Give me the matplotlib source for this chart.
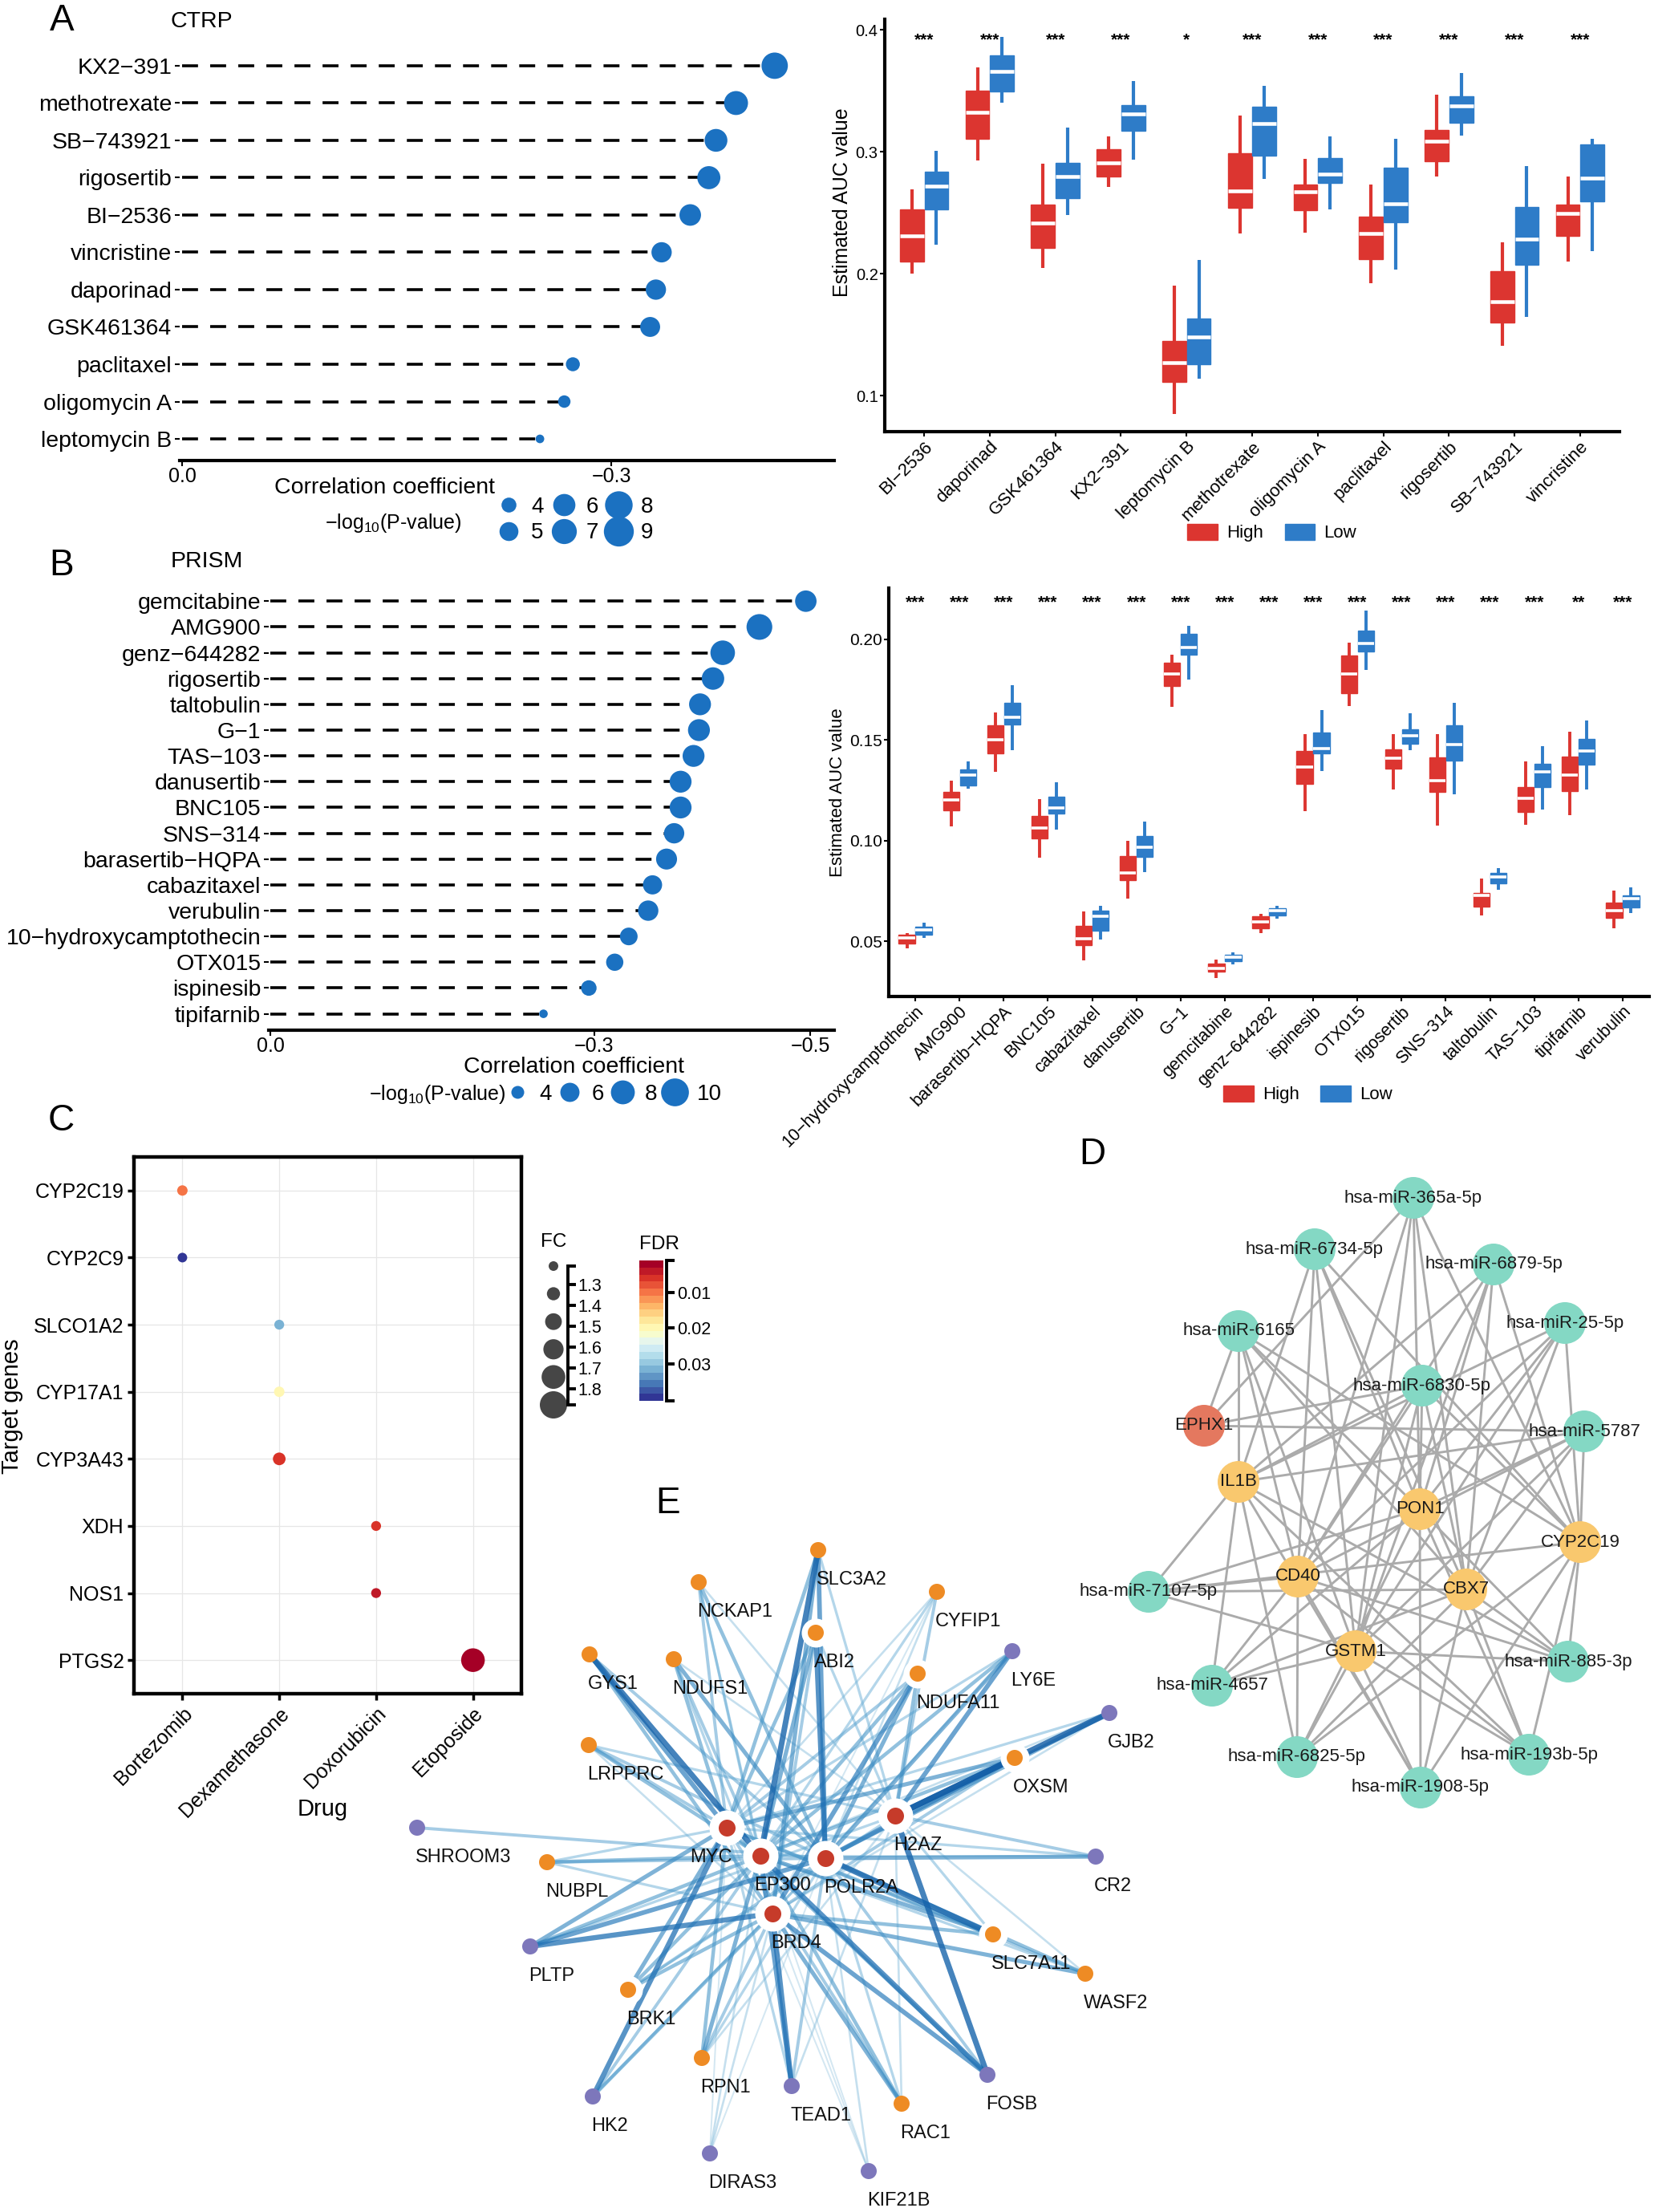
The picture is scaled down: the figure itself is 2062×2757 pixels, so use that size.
import numpy as np
import matplotlib
matplotlib.use('Agg')
import matplotlib.pyplot as plt
from matplotlib.lines import Line2D
from matplotlib.patches import Patch
from matplotlib import colormaps
from matplotlib.colors import Normalize
from matplotlib.cm import ScalarMappable

# ---------------- DATA ----------------
# Panel A (CTRP) lollipop
ctrp_drugs = ['KX2−391', 'methotrexate', 'SB−743921', 'rigosertib', 'BI−2536', 'vincristine',
              'daporinad', 'GSK461364', 'paclitaxel', 'oligomycin A', 'leptomycin B']
ctrp_cor = [-0.414, -0.387, -0.373, -0.368, -0.355, -0.335, -0.331, -0.327, -0.273, -0.267, -0.250]
ctrp_logp = [7.5, 6.6, 6.2, 6.3, 5.8, 5.4, 5.4, 5.3, 3.8, 3.5, 2.9]
ctrp_leg = [4, 5, 6, 7, 8, 9]

# Panel A boxplot  (whislo, q1, median, q3, whishi)
ctrp_box_drugs = ['BI−2536', 'daporinad', 'GSK461364', 'KX2−391', 'leptomycin B', 'methotrexate',
                  'oligomycin A', 'paclitaxel', 'rigosertib', 'SB−743921', 'vincristine']
ctrp_stars = ['***', '***', '***', '***', '*', '***', '***', '***', '***', '***', '***']
ctrp_high = [[0.200, 0.210, 0.231, 0.253, 0.269],
             [0.293, 0.311, 0.3325, 0.350, 0.369],
             [0.205, 0.221, 0.2414, 0.257, 0.290],
             [0.271, 0.280, 0.291, 0.302, 0.313],
             [0.085, 0.111, 0.127, 0.145, 0.190],
             [0.233, 0.254, 0.268, 0.299, 0.330],
             [0.234, 0.252, 0.267, 0.273, 0.294],
             [0.192, 0.212, 0.233, 0.247, 0.273],
             [0.280, 0.2925, 0.309, 0.318, 0.347],
             [0.141, 0.160, 0.177, 0.202, 0.2255],
             [0.210, 0.231, 0.2496, 0.257, 0.280]]
ctrp_low = [[0.224, 0.253, 0.2716, 0.2835, 0.3006],
            [0.3406, 0.3496, 0.366, 0.379, 0.394],
            [0.248, 0.262, 0.280, 0.291, 0.320],
            [0.2936, 0.317, 0.331, 0.3386, 0.358],
            [0.1136, 0.126, 0.148, 0.163, 0.211],
            [0.278, 0.297, 0.3235, 0.337, 0.354],
            [0.253, 0.2745, 0.282, 0.295, 0.3125],
            [0.2035, 0.242, 0.2574, 0.2867, 0.311],
            [0.3136, 0.3238, 0.3377, 0.3455, 0.365],
            [0.1646, 0.2072, 0.2287, 0.2548, 0.2884],
            [0.2188, 0.2594, 0.2786, 0.3058, 0.311]]

# Panel B (PRISM) lollipop
prism_drugs = ['gemcitabine', 'AMG900', 'genz−644282', 'rigosertib', 'taltobulin', 'G−1', 'TAS−103',
               'danusertib', 'BNC105', 'SNS−314', 'barasertib−HQPA', 'cabazitaxel', 'verubulin',
               '10−hydroxycamptothecin', 'OTX015', 'ispinesib', 'tipifarnib']
prism_cor = [-0.496, -0.453, -0.419, -0.410, -0.398, -0.397, -0.392, -0.380, -0.380, -0.374,
             -0.367, -0.354, -0.350, -0.332, -0.319, -0.295, -0.253]
prism_logp = [6.9, 8.9, 8.3, 7.35, 7.1, 7.1, 7.1, 7.1, 7.1, 6.45, 6.7, 6.0, 6.45, 5.45, 5.3, 4.75, 3.1]
prism_leg = [4, 6, 8, 10]

# Panel B boxplot
prism_box_drugs = ['10−hydroxycamptothecin', 'AMG900', 'barasertib−HQPA', 'BNC105', 'cabazitaxel',
                   'danusertib', 'G−1', 'gemcitabine', 'genz−644282', 'ispinesib', 'OTX015',
                   'rigosertib', 'SNS−314', 'taltobulin', 'TAS−103', 'tipifarnib', 'verubulin']
prism_stars = ['***'] * 15 + ['**', '***']
prism_high = [[0.0464, 0.0488, 0.0515, 0.0533, 0.054],
              [0.1071, 0.1151, 0.1201, 0.1243, 0.1297],
              [0.1342, 0.1433, 0.1501, 0.157, 0.1635],
              [0.0916, 0.101, 0.1062, 0.112, 0.1205],
              [0.0406, 0.0482, 0.0511, 0.0576, 0.0647],
              [0.0713, 0.0804, 0.084, 0.0921, 0.0999],
              [0.1662, 0.1767, 0.1825, 0.1883, 0.1924],
              [0.0316, 0.0348, 0.0367, 0.0388, 0.041],
              [0.0542, 0.0563, 0.0598, 0.0623, 0.0636],
              [0.1147, 0.1283, 0.1364, 0.1443, 0.1527],
              [0.1666, 0.1733, 0.1828, 0.192, 0.1982],
              [0.1252, 0.1355, 0.1409, 0.1454, 0.1527],
              [0.1075, 0.1243, 0.1297, 0.1413, 0.153],
              [0.0627, 0.0672, 0.0726, 0.0741, 0.0813],
              [0.1078, 0.1143, 0.1209, 0.1265, 0.1391],
              [0.1125, 0.1245, 0.1324, 0.1418, 0.1539],
              [0.0563, 0.0614, 0.0652, 0.0692, 0.075]]
prism_low = [[0.0515, 0.0533, 0.0558, 0.0572, 0.0591],
             [0.1259, 0.1274, 0.1324, 0.1351, 0.1391],
             [0.1449, 0.1575, 0.1613, 0.1684, 0.1771],
             [0.1053, 0.1134, 0.1162, 0.1219, 0.1288],
             [0.0509, 0.0554, 0.0623, 0.065, 0.0674],
             [0.0843, 0.0919, 0.0966, 0.1021, 0.1093],
             [0.1798, 0.1924, 0.1958, 0.2027, 0.2065],
             [0.0385, 0.0401, 0.0419, 0.0433, 0.0446],
             [0.061, 0.0627, 0.065, 0.0665, 0.0674],
             [0.1346, 0.1431, 0.1458, 0.1536, 0.1648],
             [0.1846, 0.1939, 0.1977, 0.204, 0.2141],
             [0.1449, 0.148, 0.1521, 0.1552, 0.163],
             [0.1228, 0.1395, 0.1476, 0.1572, 0.1684],
             [0.0757, 0.0789, 0.0818, 0.084, 0.0862],
             [0.1153, 0.1265, 0.1342, 0.1382, 0.1469],
             [0.1255, 0.1378, 0.1445, 0.1503, 0.1595],
             [0.0641, 0.0666, 0.071, 0.0728, 0.0768]]

# Panel C
c_genes = ['CYP2C19', 'CYP2C9', 'SLCO1A2', 'CYP17A1', 'CYP3A43', 'XDH', 'NOS1', 'PTGS2']
c_drug_levels = ['Bortezomib', 'Dexamethasone', 'Doxorubicin', 'Etoposide']
c_drug = ['Bortezomib', 'Bortezomib', 'Dexamethasone', 'Dexamethasone', 'Dexamethasone',
          'Doxorubicin', 'Doxorubicin', 'Etoposide']
c_fc = [1.24, 1.21, 1.22, 1.24, 1.325, 1.22, 1.22, 1.74]
c_fdr = [0.0095, 0.040, 0.0317, 0.020, 0.005, 0.005, 0.003, 0.001]
c_fc_keys = [1.21, 1.343, 1.477, 1.61, 1.743, 1.877]
c_fc_ticks = [1.3, 1.4, 1.5, 1.6, 1.7, 1.8]
c_fdr_ticks = [0.01, 0.02, 0.03]

# Panel D network
d_nodes = ['hsa-miR-365a-5p', 'hsa-miR-6734-5p', 'hsa-miR-6879-5p', 'hsa-miR-6165', 'hsa-miR-25-5p',
           'hsa-miR-6830-5p', 'EPHX1', 'hsa-miR-5787', 'IL1B', 'PON1', 'CYP2C19', 'hsa-miR-7107-5p',
           'CD40', 'CBX7', 'GSTM1', 'hsa-miR-885-3p', 'hsa-miR-4657', 'hsa-miR-6825-5p',
           'hsa-miR-193b-5p', 'hsa-miR-1908-5p']
d_type = ['mirna', 'mirna', 'mirna', 'mirna', 'mirna', 'mirna', 'key', 'mirna', 'gene', 'gene', 'gene',
          'mirna', 'gene', 'gene', 'gene', 'mirna', 'mirna', 'mirna', 'mirna', 'mirna']
d_x = [1762, 1639, 1862, 1544, 1951, 1773, 1501, 1975, 1544, 1770, 1970, 1432, 1618, 1828, 1690,
       1955, 1511, 1617, 1906, 1771]
d_y = [1493, 1557, 1576, 1659, 1649, 1727, 1777, 1784, 1847, 1881, 1922, 1984, 1965, 1981, 2058,
       2071, 2101, 2190, 2187, 2228]
d_targets = {
    'hsa-miR-365a-5p': ['EPHX1', 'CD40', 'PON1', 'GSTM1', 'CBX7', 'CYP2C19'],
    'hsa-miR-6734-5p': ['IL1B', 'CD40', 'PON1', 'CBX7', 'GSTM1', 'CYP2C19'],
    'hsa-miR-6879-5p': ['IL1B', 'CD40', 'GSTM1', 'PON1', 'CBX7', 'CYP2C19'],
    'hsa-miR-6165': ['EPHX1', 'IL1B', 'CD40', 'PON1', 'CBX7', 'GSTM1', 'CYP2C19'],
    'hsa-miR-25-5p': ['IL1B', 'CD40', 'GSTM1', 'PON1', 'CBX7', 'CYP2C19'],
    'hsa-miR-6830-5p': ['EPHX1', 'IL1B', 'CD40', 'GSTM1', 'PON1', 'CBX7', 'CYP2C19'],
    'hsa-miR-5787': ['EPHX1', 'IL1B', 'CD40', 'GSTM1', 'PON1', 'CBX7', 'CYP2C19'],
    'hsa-miR-7107-5p': ['IL1B', 'CD40', 'CBX7', 'GSTM1', 'CYP2C19', 'PON1'],
    'hsa-miR-885-3p': ['CD40', 'GSTM1', 'CBX7', 'CYP2C19', 'IL1B', 'PON1'],
    'hsa-miR-4657': ['IL1B', 'CD40', 'GSTM1', 'PON1', 'CBX7'],
    'hsa-miR-6825-5p': ['CD40', 'GSTM1', 'PON1', 'CBX7', 'CYP2C19', 'IL1B'],
    'hsa-miR-193b-5p': ['CD40', 'GSTM1', 'CBX7', 'CYP2C19', 'IL1B', 'PON1'],
    'hsa-miR-1908-5p': ['CD40', 'GSTM1', 'PON1', 'CBX7', 'CYP2C19', 'IL1B'],
}

# Panel E network
e_hubs = ['MYC', 'EP300', 'POLR2A', 'H2AZ', 'BRD4']
e_hub_x = [906, 948, 1029, 1116, 963]
e_hub_y = [2278, 2313, 2316, 2263, 2385]
e_nodes = ['SLC3A2', 'NCKAP1', 'CYFIP1', 'ABI2', 'GYS1', 'NDUFS1', 'LY6E', 'NDUFA11', 'GJB2', 'LRPPRC',
           'OXSM', 'SHROOM3', 'NUBPL', 'CR2', 'PLTP', 'SLC7A11', 'WASF2', 'BRK1', 'RPN1', 'TEAD1',
           'FOSB', 'HK2', 'RAC1', 'DIRAS3', 'KIF21B']
e_type = ['o', 'o', 'o', 'oh', 'o', 'o', 'p', 'oh', 'p', 'o', 'oh', 'p', 'o', 'p', 'p', 'oh', 'o', 'oh',
          'o', 'p', 'p', 'p', 'o', 'p', 'p']
e_x = [1020, 871, 1168, 1017, 735, 840, 1262, 1144, 1383, 734, 1265, 520, 682, 1366, 661, 1238, 1353,
       783, 875, 987, 1231, 739, 1124, 885, 1083]
e_y = [1932, 1972, 1984, 2035, 2062, 2068, 2058, 2086, 2135, 2175, 2191, 2278, 2321, 2314, 2426, 2411,
       2460, 2480, 2565, 2600, 2586, 2613, 2622, 2684, 2706]
# edge weights to hubs (MYC, EP300, POLR2A, H2AZ, BRD4); 0 = no edge
e_w = [[0.5, 0.9, 0.7, 0.3, 0.6],
       [0.4, 0.3, 0.5, 0.2, 0.3],
       [0.2, 0.3, 0.2, 0.4, 0.1],
       [0.5, 0.6, 0.8, 0.3, 0.4],
       [0.7, 0.9, 0.4, 0.0, 0.5],
       [0.5, 0.4, 0.6, 0.2, 0.3],
       [0.3, 0.5, 0.6, 0.7, 0.2],
       [0.4, 0.5, 0.6, 0.5, 0.7],
       [0.3, 0.2, 0.6, 0.95, 0.2],
       [0.4, 0.5, 0.4, 0.3, 0.2],
       [0.6, 0.5, 0.7, 0.9, 0.4],
       [0.0, 0.0, 0.4, 0.0, 0.0],
       [0.3, 0.5, 0.4, 0.0, 0.3],
       [0.3, 0.2, 0.6, 0.4, 0.0],
       [0.6, 0.5, 0.7, 0.3, 0.8],
       [0.5, 0.6, 0.9, 0.3, 0.5],
       [0.4, 0.3, 0.5, 0.2, 0.6],
       [0.6, 0.5, 0.4, 0.3, 0.5],
       [0.5, 0.6, 0.3, 0.2, 0.4],
       [0.3, 0.7, 0.4, 0.2, 0.8],
       [0.5, 0.8, 0.4, 0.9, 0.7],
       [0.8, 0.4, 0.3, 0.0, 0.5],
       [0.4, 0.5, 0.3, 0.2, 0.6],
       [0.1, 0.2, 0.1, 0.0, 0.2],
       [0.1, 0.1, 0.2, 0.0, 0.1]]

# ---------------- STYLE ----------------
W, H = 2062, 2757
plt.rcParams['font.family'] = ['Liberation Sans', 'DejaVu Sans']
plt.rcParams['mathtext.fontset'] = 'custom'
plt.rcParams['mathtext.rm'] = 'Liberation Sans'
plt.rcParams['mathtext.it'] = 'Liberation Sans:italic'
PT = 0.72
DOT = '#1B71C1'
RED = '#DC3530'
BLUE = '#2E7CC8'

fig = plt.figure(figsize=(W / 100, H / 100), dpi=100)


def add_ax(l, t, r, b):
    return fig.add_axes([l / W, 1 - b / H, (r - l) / W, (b - t) / H])


def fx(x):
    return x / W


def fy(y):
    return 1 - y / H


def rA(v):
    return 9.3 * np.sqrt((np.asarray(v, float) - 2.35) / 1.65)


def rB(v):
    return 8.0 * np.sqrt((np.asarray(v, float) - 2.38) / 1.62)


def lollipop(ax, names, cors, logps, rfun):
    y = np.arange(len(names), 0, -1)
    for c, yy in zip(cors, y):
        ax.plot([0, c], [yy, yy], color='black', lw=2.6, ls=(0, (5.5, 4.2)),
                dash_capstyle='butt', zorder=1)
    ax.scatter(cors, y, s=(2 * rfun(logps) * PT) ** 2, color=DOT, lw=0, zorder=3)
    ax.set_yticks(y)
    ax.set_yticklabels(names, fontsize=20.5)
    for s in ['top', 'right', 'left']:
        ax.spines[s].set_visible(False)
    ax.spines['bottom'].set_linewidth(3)
    ax.tick_params(axis='y', length=4, width=1.5, pad=3)
    ax.tick_params(axis='x', length=5, width=1.5, pad=1, labelsize=18)
    ax.patch.set_visible(False)


def boxes(ax, cats, high, low, width, wlw, mlw, stars, star_y, fs):
    pos = np.arange(1, len(cats) + 1)
    for data, off, col in [(high, -width / 2, RED), (low, width / 2, BLUE)]:
        stats = [dict(whislo=d[0], q1=d[1], med=d[2], q3=d[3], whishi=d[4]) for d in data]
        ax.bxp(stats, positions=pos + off, widths=width * 0.97, patch_artist=True,
               showfliers=False, showcaps=False, manage_ticks=False,
               boxprops=dict(facecolor=col, edgecolor=col, linewidth=1),
               whiskerprops=dict(color=col, linewidth=wlw, solid_capstyle='butt'),
               medianprops=dict(color='white', linewidth=mlw, solid_capstyle='butt'))
    for p, s in zip(pos, stars):
        ax.text(p, star_y, s, ha='center', va='center', fontsize=15, fontweight='bold')
    ax.set_xlim(0.4, len(cats) + 0.6)
    ax.set_xticks(pos)
    ax.set_xticklabels(cats, rotation=45, ha='right', va='top', rotation_mode='anchor', fontsize=fs)
    for s in ['top', 'right']:
        ax.spines[s].set_visible(False)
    for s in ['left', 'bottom']:
        ax.spines[s].set_linewidth(3)
    ax.tick_params(length=4, width=1.5, pad=2)
    ax.patch.set_visible(False)
    h = [Patch(facecolor=RED, edgecolor=RED), Patch(facecolor=BLUE, edgecolor=BLUE)]
    return h


# ---------------- PANEL A ----------------
axA = add_ax(224, 54, 1040, 574)
lollipop(axA, ctrp_drugs, ctrp_cor, ctrp_logp, rA)
axA.set_xlim(0.0017, -0.4556)
axA.set_ylim(0.42, 11.6)
axA.set_xticks([0, -0.3])
axA.set_xticklabels(['0.0', '−0.3'])
axA.set_xlabel('Correlation coefficient', fontsize=20.5)
axA.xaxis.label.set_va('center')
axA.xaxis.set_label_coords((480 - 224) / 816, (574 - 608) / 520)
hA = [Line2D([], [], marker='o', ls='none', color=DOT, markeredgewidth=0,
             markersize=2 * float(rA(v)) * PT) for v in ctrp_leg]
fig.legend(hA, [str(v) for v in ctrp_leg], ncol=3, loc='center',
           bbox_to_anchor=(fx(716), fy(648)), frameon=False, fontsize=20,
           handlelength=1.2, handletextpad=0.4, columnspacing=0.3, labelspacing=0.25, borderpad=0)
fig.text(fx(490), fy(652), '−log$_{10}$(P-value)', ha='center', va='center', fontsize=18)
fig.text(fx(213), fy(27), 'CTRP', ha='left', va='center', fontsize=20.5)
fig.text(fx(77), fy(26), 'A', ha='center', va='center', fontsize=33)

axAb = add_ax(1103, 24, 2019, 538)
hl = boxes(axAb, ctrp_box_drugs, ctrp_high, ctrp_low, 0.375, 3.0, 3.3, ctrp_stars, 0.3915, 16)
axAb.set_ylim(0.0704, 0.4088)
axAb.set_yticks([0.1, 0.2, 0.3, 0.4])
axAb.set_yticklabels(['0.1', '0.2', '0.3', '0.4'], fontsize=14.5)
axAb.set_ylabel('Estimated AUC value', fontsize=18)
axAb.yaxis.label.set_va('center')
axAb.yaxis.set_label_coords((1050 - 1103) / 916, (538 - 252) / 514)
axAb.legend(hl, ['High', 'Low'], ncol=2, loc='center', bbox_to_anchor=(0.527, -0.245),
            frameon=False, fontsize=16, handlelength=1.7, handleheight=1.0,
            handletextpad=0.5, columnspacing=1.2)

# ---------------- PANEL B ----------------
axB = add_ax(335, 730, 1040, 1284)
lollipop(axB, prism_drugs, prism_cor, prism_logp, rB)
axB.set_xlim(0.0015, -0.5223)
axB.set_ylim(0.365, 17.6)
axB.set_xticks([0, -0.3, -0.5])
axB.set_xticklabels(['0.0', '−0.3', '−0.5'])
axB.set_xlabel('Correlation coefficient', fontsize=20.5)
axB.xaxis.label.set_va('center')
axB.xaxis.set_label_coords((716 - 335) / 705, (1284 - 1330) / 554)
hB = [Line2D([], [], marker='o', ls='none', color=DOT, markeredgewidth=0,
             markersize=2 * float(rB(v)) * PT) for v in prism_leg]
fig.legend(hB, [str(v) for v in prism_leg], ncol=4, loc='center',
           bbox_to_anchor=(fx(764), fy(1364)), frameon=False, fontsize=20,
           handlelength=1.2, handletextpad=0.4, columnspacing=0.2, borderpad=0)
fig.text(fx(545), fy(1364), '−log$_{10}$(P-value)', ha='center', va='center', fontsize=18)
fig.text(fx(213), fy(700), 'PRISM', ha='left', va='center', fontsize=20.5)
fig.text(fx(77), fy(705), 'B', ha='center', va='center', fontsize=33)

axBb = add_ax(1108, 733, 2056, 1242)
hl = boxes(axBb, prism_box_drugs, prism_high, prism_low, 0.38, 2.8, 2.6, prism_stars, 0.2180, 15.5)
axBb.set_ylim(0.02256, 0.2253)
axBb.set_yticks([0.05, 0.10, 0.15, 0.20])
axBb.set_yticklabels(['0.05', '0.10', '0.15', '0.20'], fontsize=15)
axBb.set_ylabel('Estimated AUC value', fontsize=16)
axBb.yaxis.label.set_va('center')
axBb.yaxis.set_label_coords((1045 - 1108) / 948, 0.5)
axBb.legend(hl, ['High', 'Low'], ncol=2, loc='center', bbox_to_anchor=(0.551, -0.24),
            frameon=False, fontsize=16, handlelength=1.7, handleheight=1.0,
            handletextpad=0.5, columnspacing=1.2)

# ---------------- PANEL C ----------------
cmapC = colormaps['RdYlBu'].resampled(20)
normC = Normalize(0.001, 0.0404)


def rC(fc):
    return 6.0 + (np.asarray(fc, float) - 1.21) * 16.5


axC = add_ax(167, 1442, 650, 2111)
xC = [c_drug_levels.index(d) + 1 for d in c_drug]
yC = np.arange(1, len(c_genes) + 1)
axC.scatter(xC, yC, s=(2 * rC(c_fc) * PT) ** 2, c=c_fdr, cmap=cmapC, norm=normC, lw=0, zorder=3)
axC.set_xlim(0.5, 4.5)
axC.set_ylim(8.5, 0.5)
axC.set_xticks(np.arange(1, 5))
axC.set_xticklabels(c_drug_levels, rotation=45, ha='right', va='top', rotation_mode='anchor', fontsize=18)
axC.set_yticks(yC)
axC.set_yticklabels(c_genes, fontsize=18)
axC.grid(True, color='#E6E6E6', lw=0.9)
axC.set_axisbelow(True)
for s in axC.spines.values():
    s.set_linewidth(3.2)
axC.tick_params(length=6, width=2.5, pad=3)
axC.set_ylabel('Target genes', fontsize=21)
axC.yaxis.label.set_va('center')
axC.yaxis.set_label_coords((15 - 167) / 483, (2111 - 1753) / 669)
axC.set_xlabel('Drug', fontsize=21)
axC.xaxis.label.set_va('center')
axC.xaxis.set_label_coords((402 - 167) / 483, (2111 - 2255) / 669)
fig.text(fx(76), fy(1397), 'C', ha='center', va='center', fontsize=33)

# FC legend
axFC = add_ax(672, 1578, 708, 1751)
axFC.scatter([0.5] * len(c_fc_keys), c_fc_keys, s=(2 * rC(c_fc_keys) * PT) ** 2, color='#464646',
             lw=0, clip_on=False)
axFC.set_xlim(0, 1)
axFC.set_ylim(c_fc_keys[-1], c_fc_keys[0])
for s in ['top', 'bottom', 'left']:
    axFC.spines[s].set_visible(False)
axFC.spines['right'].set_linewidth(2.8)
axFC.set_xticks([])
axFC.yaxis.tick_right()
axFC.set_yticks([c_fc_keys[0]] + c_fc_ticks + [c_fc_keys[-1]])
axFC.set_yticklabels([''] + [f'{t:.1f}' for t in c_fc_ticks] + [''], fontsize=15.5)
axFC.tick_params(axis='y', direction='out', length=7, width=2.8, pad=2)
axFC.patch.set_visible(False)
fig.text(fx(690), fy(1548), 'FC', ha='center', va='center', fontsize=17.5)

# FDR colorbar
cax = add_ax(797, 1571, 827, 1746)
cb = fig.colorbar(ScalarMappable(norm=normC, cmap=cmapC), cax=cax)
cb.outline.set_visible(False)
cb.set_ticks([0.001] + c_fdr_ticks + [0.0404])
cb.set_ticklabels([''] + [f'{t:.2f}' for t in c_fdr_ticks] + [''])
cax.invert_yaxis()
cax.spines['right'].set_visible(True)
cax.spines['right'].set_linewidth(2.8)
cax.spines['right'].set_position(('outward', 3))
cax.tick_params(axis='y', direction='out', length=7, width=2.8, pad=2, labelsize=15.5)
fig.text(fx(822), fy(1551), 'FDR', ha='center', va='center', fontsize=17.5)

# ---------------- PANEL D ----------------
axD = add_ax(1340, 1420, 2062, 2280)
axD.set_xlim(1340, 2062)
axD.set_ylim(2280, 1420)
axD.axis('off')
pos_d = {n: (x, y) for n, x, y in zip(d_nodes, d_x, d_y)}
for m, genes in d_targets.items():
    for g in genes:
        axD.plot([pos_d[m][0], pos_d[g][0]], [pos_d[m][1], pos_d[g][1]], color='#ABABAB', lw=2.1,
                 zorder=1, solid_capstyle='round')
d_col = {'mirna': '#84D8C4', 'gene': '#F9C86E', 'key': '#E4785F'}
axD.scatter(d_x, d_y, s=(2 * 26 * PT) ** 2, c=[d_col[t] for t in d_type], lw=0, zorder=2)
for n, x, y in zip(d_nodes, d_x, d_y):
    axD.text(x, y, n, ha='center', va='center', fontsize=16, color='#1A1A1A', zorder=3)
fig.text(fx(1362), fy(1439), 'D', ha='center', va='center', fontsize=33)

# ---------------- PANEL E ----------------
axE = add_ax(480, 1840, 1470, 2757)
axE.set_xlim(480, 1470)
axE.set_ylim(2757, 1840)
axE.axis('off')
blues = colormaps['Blues']
edges = []
for i in range(len(e_nodes)):
    for j in range(len(e_hubs)):
        w = e_w[i][j]
        if w > 0:
            edges.append((w, e_x[i], e_y[i], e_hub_x[j], e_hub_y[j]))
edges.sort(key=lambda t: t[0])
for w, x1, y1, x2, y2 in edges:
    axE.plot([x1, x2], [y1, y2], color=blues(0.35 + 0.5 * w), lw=1.0 + 4.5 * w,
             alpha=0.35 + 0.5 * w, solid_capstyle='butt', zorder=1)
halo_x = [x for x, t in zip(e_x, e_type) if t == 'oh']
halo_y = [y for y, t in zip(e_y, e_type) if t == 'oh']
axE.scatter(halo_x, halo_y, s=(2 * 18 * PT) ** 2, color='white', lw=0, zorder=2)
axE.scatter(e_hub_x, e_hub_y, s=(2 * 22 * PT) ** 2, color='white', lw=0, zorder=2)
e_col = {'o': '#EE8B24', 'oh': '#EE8B24', 'p': '#7D77BB'}
axE.scatter(e_x, e_y, s=(2 * 10 * PT) ** 2, c=[e_col[t] for t in e_type], lw=0, zorder=3)
axE.scatter(e_hub_x, e_hub_y, s=(2 * 10.5 * PT) ** 2, color='#C63B2A', lw=0, zorder=3)
label_shift = {'MYC': -44, 'EP300': -6}
for n, x, y in list(zip(e_nodes, e_x, e_y)) + list(zip(e_hubs, e_hub_x, e_hub_y)):
    axE.text(x - 2 + label_shift.get(n, 0), y + 37, n, ha='left', va='center', fontsize=17,
             color='#111111', zorder=4)
fig.text(fx(833), fy(1874), 'E', ha='center', va='center', fontsize=33)

fig.savefig('out.png', dpi=100, facecolor='white')
